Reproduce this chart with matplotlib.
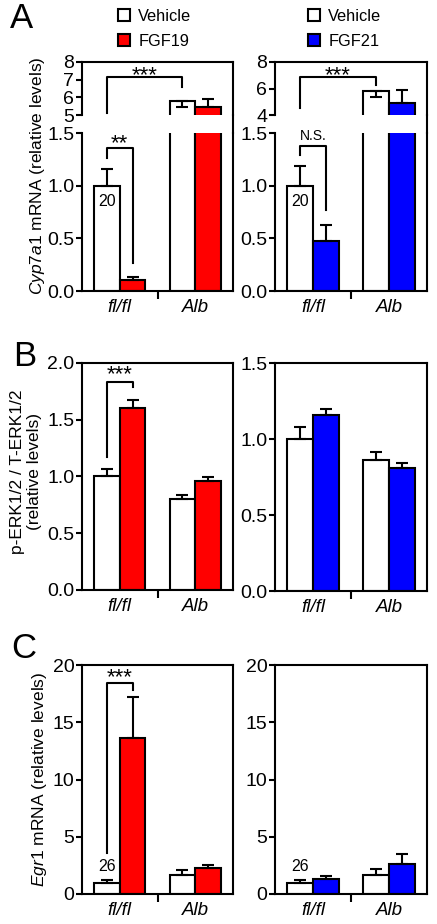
import matplotlib
matplotlib.use("Agg")
import matplotlib.pyplot as plt
from matplotlib.lines import Line2D
import numpy as np

plt.rcParams['font.family'] = ['Liberation Sans', 'DejaVu Sans']
plt.rcParams['mathtext.fontset'] = 'custom'
plt.rcParams['mathtext.rm'] = 'Liberation Sans'
plt.rcParams['mathtext.it'] = 'Liberation Sans:italic'

# ---------------- data ----------------
groups = ["fl/fl", "Alb"]
legend_left = ["Vehicle", "FGF19"]
legend_right = ["Vehicle", "FGF21"]

# Panel A (Cyp7a1 mRNA)
a19_vehicle = [1.0, 5.81]
a19_vehicle_err_lo = [0.0, 0.36]
a19_vehicle_err_hi = [0.16, 0.0]
a19_treat = [0.10, 5.43]
a19_treat_err = [0.035, 0.45]

a21_vehicle = [1.0, 5.83]
a21_vehicle_err_lo = [0.0, 0.45]
a21_vehicle_err_hi = [0.19, 0.0]
a21_treat = [0.47, 4.93]
a21_treat_err = [0.16, 0.96]

# Panel B (p-ERK / T-ERK)
b19_vehicle = [1.0, 0.80]
b19_vehicle_err = [0.065, 0.04]
b19_treat = [1.60, 0.96]
b19_treat_err = [0.07, 0.035]

b21_vehicle = [1.0, 0.86]
b21_vehicle_err = [0.08, 0.057]
b21_treat = [1.157, 0.81]
b21_treat_err = [0.04, 0.03]

# Panel C (Egr1 mRNA)
c19_vehicle = [0.99, 1.65]
c19_vehicle_err = [0.22, 0.48]
c19_treat = [13.6, 2.24]
c19_treat_err = [3.6, 0.28]

c21_vehicle = [1.0, 1.66]
c21_vehicle_err = [0.22, 0.48]
c21_treat = [1.31, 2.62]
c21_treat_err = [0.29, 0.87]

RED = "#ff0000"
BLUE = "#0000ff"
W, H = 437, 924
LW = 1.5
TICK_FS = 14
BW = 0.34

fig = plt.figure(figsize=(W / 100, H / 100), dpi=100)


def ax_px(x0, y0, x1, y1):
    return fig.add_axes([x0 / W, 1 - y1 / H, (x1 - x0) / W, (y1 - y0) / H])


def style(ax, ylim, ticks, labels, show_x=True, spines=("left", "right", "top", "bottom")):
    ax.set_xlim(-0.5, 1.5)
    ax.set_ylim(*ylim)
    for s in ["left", "right", "top", "bottom"]:
        ax.spines[s].set_visible(s in spines)
        ax.spines[s].set_linewidth(LW)
    ax.set_yticks(ticks)
    ax.set_yticklabels(labels, fontsize=TICK_FS)
    ax.tick_params(axis='y', direction='out', length=4, width=LW, pad=1.5)
    if show_x:
        ax.set_xticks([0, 1])
        ax.set_xticklabels(groups, fontsize=13.5, style='italic')
        ax.tick_params(axis='x', length=0, pad=6)
        ax.set_xticks([0.5], minor=True)
        ax.tick_params(axis='x', which='minor', direction='out', length=6, width=LW)
    else:
        ax.set_xticks([])


def bars(ax, veh, treat, color, veh_err, treat_err):
    x = np.arange(len(groups))
    ax.bar(x - BW / 2, veh, BW, color='white', edgecolor='black', linewidth=LW, zorder=2)
    ax.bar(x + BW / 2, treat, BW, color=color, edgecolor='black', linewidth=LW, zorder=2)
    ax.errorbar(x - BW / 2, veh, yerr=veh_err, fmt='none', ecolor='black',
                elinewidth=LW, capsize=4, capthick=LW, zorder=3)
    ax.errorbar(x + BW / 2, treat, yerr=[np.zeros(len(treat)), treat_err], fmt='none',
                ecolor='black', elinewidth=LW, capsize=4, capthick=LW, zorder=3)


def bracket(ax, x0, x1, y, y0, y1, text, fs, ty):
    ax.plot([x0, x0, x1, x1], [y0, y, y, y1], color='black', lw=LW, clip_on=False, zorder=3)
    ax.text((x0 + x1) / 2, ty, text, ha='center', va='center', fontsize=fs, clip_on=False)


# ---------------- Panel A ----------------
def panel_a(x0, x1, veh, veh_lo, veh_hi, treat, terr, color, top_lim, top_ticks):
    axt = ax_px(x0, 62, x1, 115)
    axb = ax_px(x0, 133, x1, 291)
    for ax in (axt, axb):
        bars(ax, veh, treat, color, [veh_lo, veh_hi], terr)
    style(axt, top_lim, top_ticks, [str(t) for t in top_ticks], show_x=False,
          spines=("left", "right", "top"))
    style(axb, (0, 1.5), [0, 0.5, 1.0, 1.5], ["0.0", "0.5", "1.0", "1.5"],
          spines=("left", "right", "bottom"))
    fig.add_artist(Line2D([x1 / W, x1 / W], [1 - 115 / H, 1 - 133 / H], color='black',
                          lw=LW, transform=fig.transFigure))
    return axt, axb


a1t, a1b = panel_a(82, 233, a19_vehicle, a19_vehicle_err_lo, a19_vehicle_err_hi,
                   a19_treat, a19_treat_err, RED, (5, 8), [5, 6, 7, 8])
a2t, a2b = panel_a(275, 427, a21_vehicle, a21_vehicle_err_lo, a21_vehicle_err_hi,
                   a21_treat, a21_treat_err, BLUE, (4, 8), [4, 6, 8])

a1b.text(-BW / 2, 0.845, "20", ha='center', va='center', fontsize=11.5)
a2b.text(-BW / 2, 0.845, "20", ha='center', va='center', fontsize=11.5)
bracket(a1b, -BW / 2, BW / 2, 1.36, 1.26, 0.27, "**", 16, 1.40)
bracket(a1t, -BW / 2, 1 - BW / 2, 7.15, 5.1, 6.58, "***", 16, 7.25)
bracket(a2b, -BW / 2, BW / 2, 1.38, 1.29, 0.77, "N.S.", 10, 1.47)
bracket(a2t, -BW / 2, 1 - BW / 2, 6.87, 4.53, 6.26, "***", 16, 7.0)

fig.text(38 / W, 1 - 176 / H, "$\\mathit{Cyp7a1}$ mRNA (relative levels)", rotation=90,
         ha='center', va='center', fontsize=12.5)

# legends
for lx, labels, color in [(116, legend_left, RED), (306, legend_right, BLUE)]:
    handles = [Line2D([], [], ls='none', marker='s', markersize=8.5, markerfacecolor=c,
                      markeredgecolor='black', markeredgewidth=1.5)
               for c in ['white', color]]
    fig.legend(handles, labels, loc='upper left', bbox_to_anchor=(lx / W, 1 - 9 / H),
               frameon=False, fontsize=11.8, handlelength=1.0, handletextpad=0.35,
               labelspacing=0.62, borderpad=0, borderaxespad=0)

# ---------------- Panel B ----------------
b1 = ax_px(82, 363, 233, 590)
bars(b1, b19_vehicle, b19_treat, RED, [np.zeros(2), b19_vehicle_err], b19_treat_err)
style(b1, (0, 2.0), [0, 0.5, 1.0, 1.5, 2.0], ["0.0", "0.5", "1.0", "1.5", "2.0"])
bracket(b1, -BW / 2, BW / 2, 1.83, 1.17, 1.79, "***", 16, 1.90)

b2 = ax_px(275, 363, 427, 591)
bars(b2, b21_vehicle, b21_treat, BLUE, [np.zeros(2), b21_vehicle_err], b21_treat_err)
style(b2, (0, 1.5), [0, 0.5, 1.0, 1.5], ["0.0", "0.5", "1.0", "1.5"])

fig.text(26 / W, 1 - 472 / H, "p-ERK1/2 / T-ERK1/2\n(relative levels)", rotation=90,
         ha='center', va='center', fontsize=12.5, linespacing=1.15)

# ---------------- Panel C ----------------
c1 = ax_px(82, 665, 233, 894)
bars(c1, c19_vehicle, c19_treat, RED, [np.zeros(2), c19_vehicle_err], c19_treat_err)
style(c1, (0, 20), [0, 5, 10, 15, 20], ["0", "5", "10", "15", "20"])
bracket(c1, -BW / 2, BW / 2, 18.4, 3.6, 17.8, "***", 16, 18.9)
c1.text(-BW / 2, 2.4, "26", ha='center', va='center', fontsize=11.5)

c2 = ax_px(275, 665, 427, 894)
bars(c2, c21_vehicle, c21_treat, BLUE, [np.zeros(2), c21_vehicle_err], c21_treat_err)
style(c2, (0, 20), [0, 5, 10, 15, 20], ["0", "5", "10", "15", "20"])
c2.text(-BW / 2, 2.4, "26", ha='center', va='center', fontsize=11.5)

fig.text(40 / W, 1 - 779 / H, "$\\mathit{Egr1}$ mRNA (relative levels)", rotation=90,
         ha='center', va='center', fontsize=12.5)

# panel letters
for letter, (px, py) in zip("ABC", [(22, 18), (25, 357), (24, 648)]):
    fig.text(px / W, 1 - py / H, letter, ha='center', va='center', fontsize=25)

fig.savefig("out.png", dpi=100)
